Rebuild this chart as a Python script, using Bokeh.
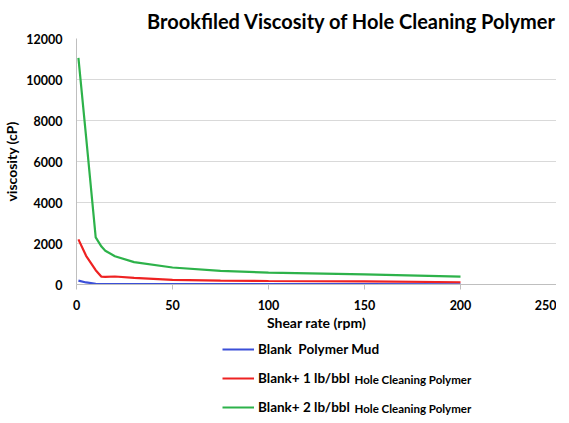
from bokeh.plotting import figure
from bokeh.layouts import column
from bokeh.models import Legend, LegendItem, Range1d, SingleIntervalTicker, Label
from bokeh.embed import file_html
from bokeh.resources import INLINE

shear_rate = [1, 5, 10, 13, 15, 20, 30, 50, 75, 100, 150, 200]
blank_mud = [190, 100, 35, 25, 25, 25, 22, 20, 20, 18, 15, 12]
blank_1lb = [2200, 1400, 700, 380, 370, 390, 320, 230, 190, 170, 150, 110]
blank_2lb = [11050, 7200, 2300, 1850, 1650, 1380, 1090, 830, 660, 580, 490, 380]

series_main = ["Blank  Polymer Mud", "Blank+ 1 lb/bbl", "Blank+ 2 lb/bbl"]
series_suffix = ["", "Hole Cleaning Polymer", "Hole Cleaning Polymer"]
series_colors = ["#3b4fd8", "#ee2222", "#2db24a"]

FONT = "Lato"

p = figure(width=556, height=333, output_backend="svg", toolbar_location=None,
           x_range=Range1d(0, 250), y_range=Range1d(0, 12000),
           min_border_left=75, min_border_right=0, min_border_bottom=47,
           min_border_top=0,
           title="Brookfiled Viscosity of Hole Cleaning Polymer")

p.title.text_font = FONT
p.title.text_font_size = "20px"
p.title.text_font_style = "bold"
p.title.align = "right"
p.title.offset = 0
p.title.standoff = 12
p.title.text_color = "black"

p.outline_line_color = None
p.xgrid.grid_line_color = None
p.ygrid.grid_line_color = "#d9d9d9"
p.ygrid.grid_line_width = 1

p.xaxis.ticker = SingleIntervalTicker(interval=50)
p.yaxis.ticker = SingleIntervalTicker(interval=2000)

for ax in (p.xaxis, p.yaxis):
    ax.axis_line_color = "#bfbfbf"
    ax.major_tick_line_color = "#bfbfbf"
    ax.minor_tick_line_color = None
    ax.major_label_text_font = FONT
    ax.major_label_text_font_style = "bold"
    ax.major_label_text_font_size = "12.5px"
    ax.major_label_text_color = "black"
    ax.axis_label_text_font = FONT
    ax.axis_label_text_font_style = "bold"
    ax.axis_label_text_font_size = "14px"
    ax.axis_label_text_color = "black"

p.xaxis.major_tick_in = 0
p.xaxis.major_tick_out = 5
p.xaxis.major_label_standoff = 10
p.xaxis.axis_label = "Shear rate (rpm)"
p.xaxis.axis_label_standoff = 1

p.yaxis.major_tick_in = 0
p.yaxis.major_tick_out = 0
p.yaxis.major_label_standoff = 10
p.yaxis.axis_label = "viscosity (cP)"
p.yaxis.axis_label_standoff = 3

for ys, c in zip([blank_mud, blank_1lb, blank_2lb], series_colors):
    p.line(shear_rate, ys, line_color=c, line_width=2.2)

# legend panel below the chart
lg = figure(width=556, height=82, output_backend="svg", toolbar_location=None,
            x_range=Range1d(0, 1), y_range=Range1d(0, 1),
            x_axis_location=None, y_axis_location=None,
            min_border_left=0, min_border_right=0, min_border_top=0,
            min_border_bottom=0)
lg.outline_line_color = None
lg.grid.grid_line_color = None
items = []
for n, c in zip(series_main, series_colors):
    r = lg.line([float("nan")], [float("nan")], line_color=c, line_width=2.2)
    items.append(LegendItem(label=n, renderers=[r]))

legend = Legend(items=items, location=(146, 0))
legend.label_text_font = FONT
legend.label_text_font_style = "bold"
legend.label_text_font_size = "13.5px"
legend.label_text_color = "black"
legend.glyph_width = 32
legend.glyph_height = 16
legend.label_height = 16
legend.spacing = 13
legend.padding = 0
legend.margin = 0
legend.label_standoff = 4
legend.border_line_color = None
legend.background_fill_alpha = 0
lg.add_layout(legend, "center")

for i, s in enumerate(series_suffix):
    if s:
        lg.add_layout(Label(x=278, y=66 - 29 * i - 1, x_units="screen", y_units="screen",
                            text=s, text_font=FONT, text_font_style="bold",
                            text_font_size="11.5px", text_color="black",
                            text_baseline="middle", text_align="left"))

open("out.html", "w").write(file_html(column(p, lg, spacing=0), INLINE))
